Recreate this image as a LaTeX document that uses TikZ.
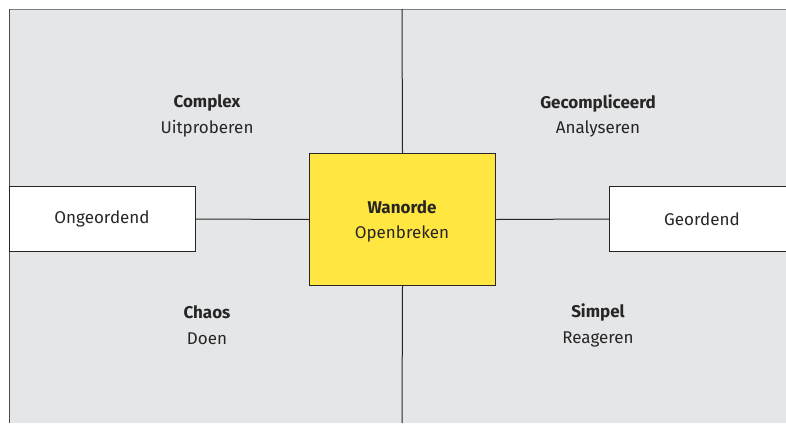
\documentclass[tikz,border=0pt]{standalone}
\usepackage{fontspec}
\setmainfont{Fira Sans}
\begin{document}
\begin{tikzpicture}[x=1pt,y=-1pt,
  txt/.style={text=black!85, font=\fontsize{17}{20}\selectfont},
  box/.style={draw=black!85, line width=1pt, inner sep=0pt, anchor=north west},
  link/.style={draw=black!85, line width=1pt}]
\useasboundingbox (0,0) rectangle (786,423);
% grey field with its top and left edge
\fill[fill={rgb,255:red,229;green,230;blue,232}] (9,9) rectangle (786,423);
\draw[black!50, line width=1.2pt] (9,9.5) -- (786,9.5);
\draw[black!70, line width=1.2pt] (9.5,9) -- (9.5,423);
% axes
\coordinate (top) at (402,9);
\coordinate (bot) at (402,423);
% boxes
\node[box, fill={rgb,255:red,255;green,230;blue,64}, minimum width=186pt, minimum height=132pt] (mid) at (309,153) {};
\node[box, fill=white, minimum width=186pt, minimum height=65pt] (left) at (9,186) {};
\node[box, fill=white, minimum width=190pt, minimum height=65pt] (right) at (609,186) {};
\draw[link] (top) -- (mid.north);
\draw[link] (mid.south) -- (bot);
\draw[link] (left.east) -- (mid.west);
\draw[link] (mid.east) -- (right.west);
% labels
\node[txt] (lt) at (102,219) {Ongeordend};
\node[txt] (rt) at (702,219) {Geordend};
\node[txt] (m1) at (402,207) {\textbf{Wanorde}};
\node[txt] (m2) at (402,234) {Openbreken};
\node[txt] (c1) at (207,103) {\textbf{Complex}};
\node[txt] (c2) at (207,129) {Uitproberen};
\node[txt] (g1) at (598,103) {\textbf{Gecompliceerd}};
\node[txt] (g2) at (598,129) {Analyseren};
\node[txt] (h1) at (207,312) {\textbf{Chaos}};
\node[txt] (h2) at (207,339) {Doen};
\node[txt] (s1) at (598,312) {\textbf{Simpel}};
\node[txt] (s2) at (598,339) {Reageren};
\end{tikzpicture}
\end{document}
